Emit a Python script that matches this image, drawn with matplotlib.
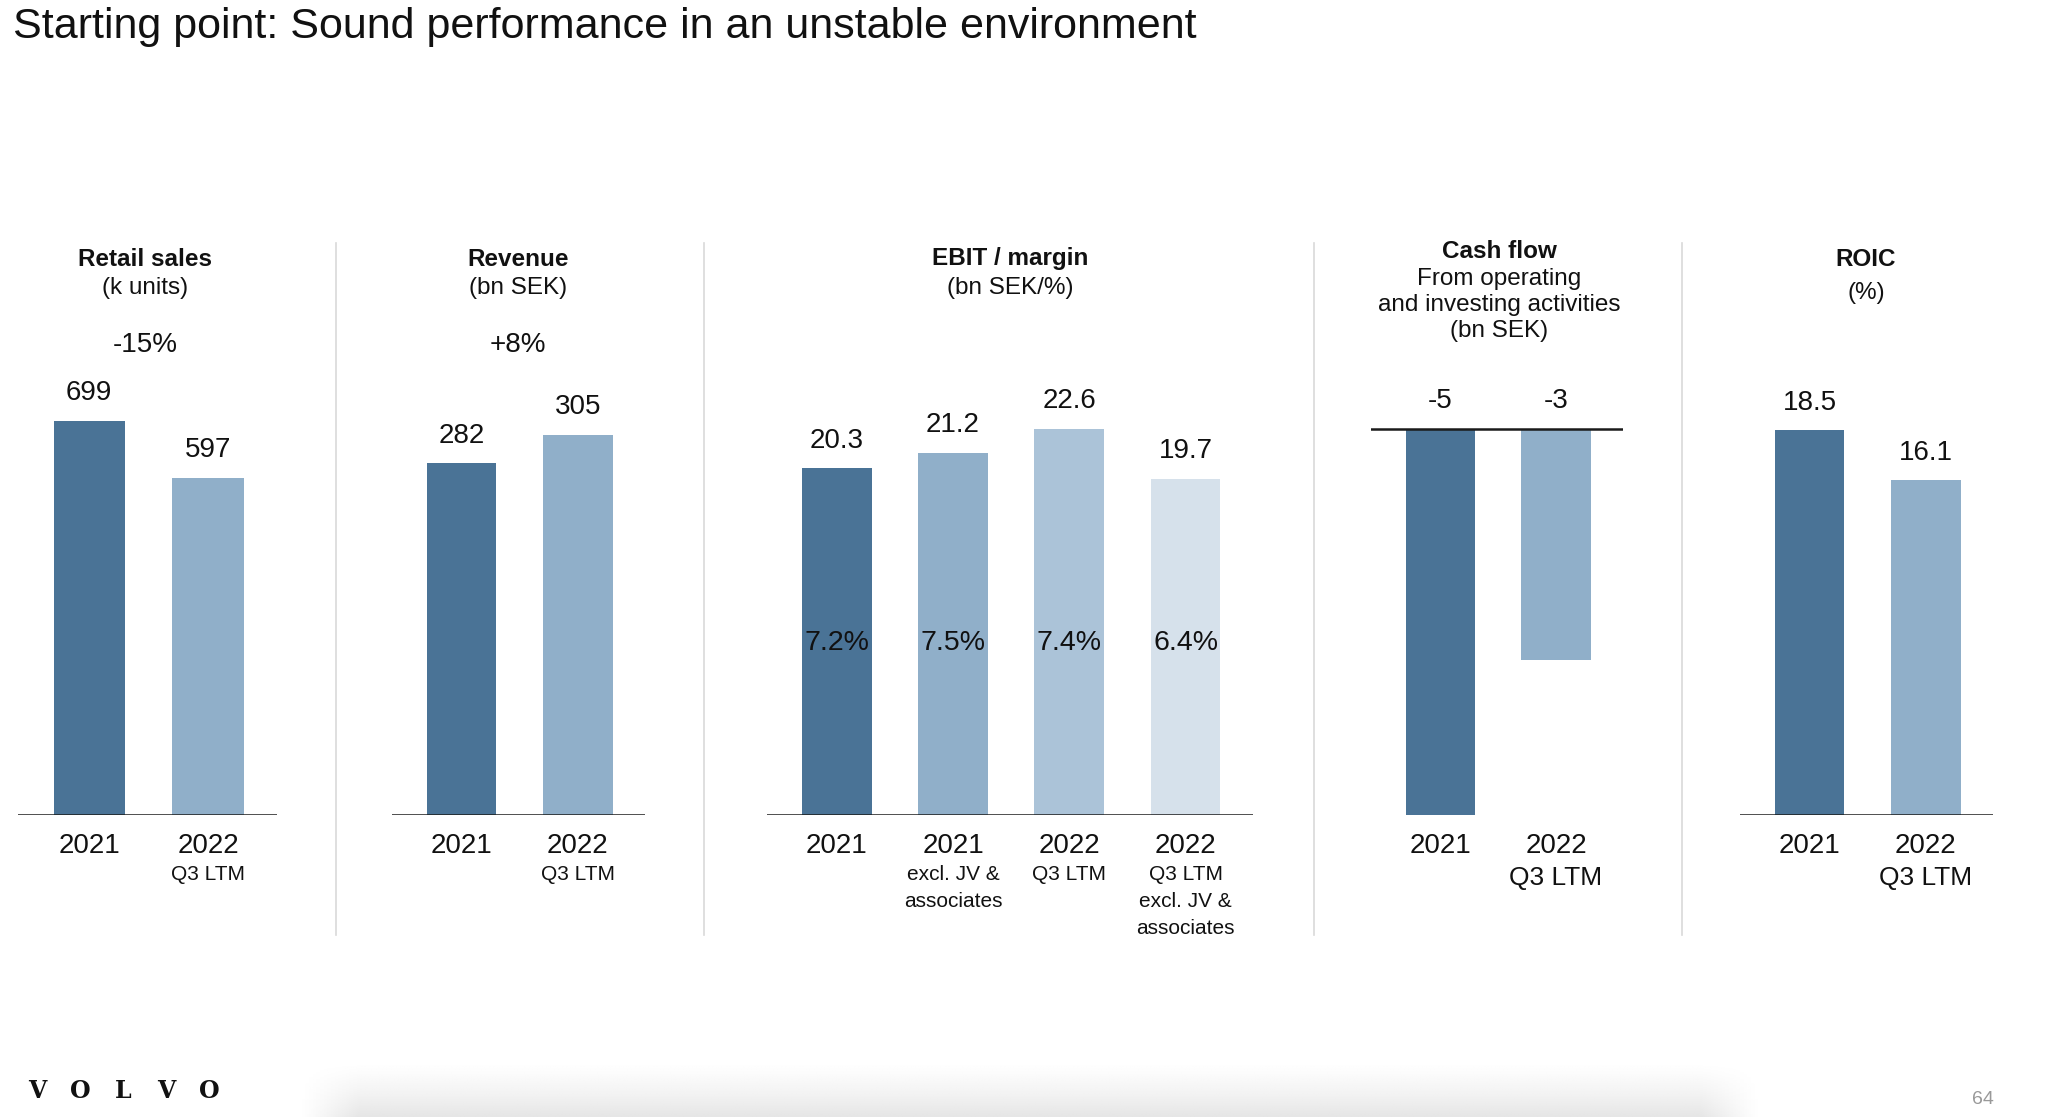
import numpy as np
import matplotlib.pyplot as plt
from matplotlib.lines import Line2D

plt.rcParams['font.family'] = ['Liberation Sans', 'DejaVu Sans']

# Data
retail_labels = ["2021", "2022"]
retail_sub = ["", "Q3 LTM"]
retail_values = [699, 597]

revenue_labels = ["2021", "2022"]
revenue_sub = ["", "Q3 LTM"]
revenue_values = [282, 305]

ebit_labels = ["2021", "2021", "2022", "2022"]
ebit_sub = ["", "excl. JV &\nassociates", "Q3 LTM", "Q3 LTM\nexcl. JV &\nassociates"]
ebit_values = [20.3, 21.2, 22.6, 19.7]
ebit_margin = ["7.2%", "7.5%", "7.4%", "6.4%"]

cash_labels = ["2021", "2022"]
cash_sub = ["", "Q3 LTM"]
cash_values = [-5, -3]

roic_labels = ["2021", "2022"]
roic_sub = ["", "Q3 LTM"]
roic_values = [18.5, 16.1]

DARK = "#4a7396"
MID = "#90afc9"
LIGHT = "#abc3d8"
PALE = "#d6e1eb"

W, H = 2048, 1117
fig = plt.figure(figsize=(W / 100, H / 100), dpi=100)
fig.patch.set_facecolor("white")

BASE = 815   # baseline (px from top)
TOP = 366    # top of plotting axes


def make_ax(x0, x1, ylim):
    ax = fig.add_axes([x0 / W, 1 - BASE / H, (x1 - x0) / W, (BASE - TOP) / H])
    ax.set_ylim(*ylim)
    ax.axis("off")
    return ax


def draw_panel(ax, values, colors, labels, subs, sub_size, fmt, zero_top=False):
    n = len(values)
    xs = list(range(n))
    ax.set_xlim(-0.6, n - 1 + 0.58)
    ax.bar(xs, values, width=0.6, color=colors, edgecolor="none", zorder=2)
    ax.axhline(0, color="#1a1a1a", lw=1.8, zorder=3)
    for x, v in zip(xs, values):
        y = 0 if zero_top else v
        ax.annotate(fmt(v), xy=(x, y), xytext=(0, 20), textcoords="offset points",
                    ha="center", va="center", fontsize=20, color="#111")
    tr = ax.get_xaxis_transform()
    for x, lab, sub in zip(xs, labels, subs):
        ax.annotate(lab, xy=(x, 0), xycoords=tr, xytext=(0, -22),
                    textcoords="offset points", ha="center", va="center",
                    fontsize=20, color="#111")
        for i, line in enumerate(sub.split("\n")):
            if line:
                off = -42.5 - 19.6 * i if sub_size < 17 else -45.5
                ax.annotate(line, xy=(x, 0), xycoords=tr, xytext=(0, off),
                            textcoords="offset points", ha="center", va="center",
                            fontsize=sub_size, color="#111")


# Retail sales
ax1 = make_ax(18, 277, (0, 796))
draw_panel(ax1, retail_values, [DARK, MID], retail_labels, retail_sub, 15, lambda v: f"{v}")

# Revenue
ax2 = make_ax(392, 645, (0, 360))
draw_panel(ax2, revenue_values, [DARK, MID], revenue_labels, revenue_sub, 15, lambda v: f"{v}")

# EBIT / margin
ax3 = make_ax(767, 1253, (0, 26.3))
draw_panel(ax3, ebit_values, [DARK, MID, LIGHT, PALE], ebit_labels, ebit_sub, 15, lambda v: f"{v:.1f}")
for x, m in enumerate(ebit_margin):
    ax3.text(x, 0.382, m, transform=ax3.get_xaxis_transform(), ha="center",
             va="center", fontsize=20.5, color="#111", zorder=4)

# Cash flow
ax4 = make_ax(1371, 1623, (-5, 0.81))
draw_panel(ax4, cash_values, [DARK, MID], cash_labels, cash_sub, 19, lambda v: f"{v}", zero_top=True)

# ROIC
ax5 = make_ax(1740, 1993, (0, 21.6))
draw_panel(ax5, roic_values, [DARK, MID], roic_labels, roic_sub, 19, lambda v: f"{v}")


# Panel headers
def header(x, lines, ys):
    for i, (txt, y) in enumerate(zip(lines, ys)):
        fig.text(x / W, 1 - y / H, txt, ha="center", va="center", fontsize=17.5,
                 fontweight="bold" if i == 0 else "normal", color="#111")


header(145, ["Retail sales", "(k units)"], [259, 288])
header(518, ["Revenue", "(bn SEK)"], [259, 288])
header(1010, ["EBIT / margin", "(bn SEK/%)"], [259, 288])
header(1499, ["Cash flow", "From operating", "and investing activities", "(bn SEK)"],
       [252, 279, 305, 331])
header(1866, ["ROIC", "(%)"], [259, 293])

fig.text(145 / W, 1 - 345 / H, "-15%", ha="center", va="center", fontsize=20, color="#111")
fig.text(518 / W, 1 - 345 / H, "+8%", ha="center", va="center", fontsize=20, color="#111")

# Separators
for sx in [336, 704, 1314, 1682]:
    fig.add_artist(Line2D([sx / W, sx / W], [1 - 243 / H, 1 - 935 / H],
                          transform=fig.transFigure, color="#d9d9d9", lw=1.2))

# Title
fig.text(13 / W, 1 - 27 / H, "Starting point: Sound performance in an unstable environment",
         ha="left", va="center", fontsize=31, color="#111")

# Soft shadow at the bottom edge
sh = fig.add_axes([300 / W, 0, 1460 / W, 62 / H], zorder=0)
gx = np.linspace(-1, 1, 400)
gy = np.linspace(0, 1, 60)
edge = np.clip((1 - np.abs(gx)) / 0.08, 0, 1)
shade = np.outer(np.clip(1 - gy * 1.1, 0, 1) ** 1.3, edge) * 0.1
sh.imshow(1 - shade, cmap="gray", vmin=0, vmax=1, aspect="auto", origin="lower",
          extent=(0, 1, 0, 1))
sh.axis("off")

# Footer
for i, ch in enumerate("VOLVO"):
    fig.text((37 + i * 43) / W, 1 - 1091 / H, ch, ha="center", va="center",
             fontsize=17, fontweight="bold", family="DejaVu Serif", color="#111")
fig.text(1983 / W, 1 - 1100 / H, "64", ha="center", va="center", fontsize=14, color="#999")

fig.savefig("out.png", dpi=100, facecolor="white")
